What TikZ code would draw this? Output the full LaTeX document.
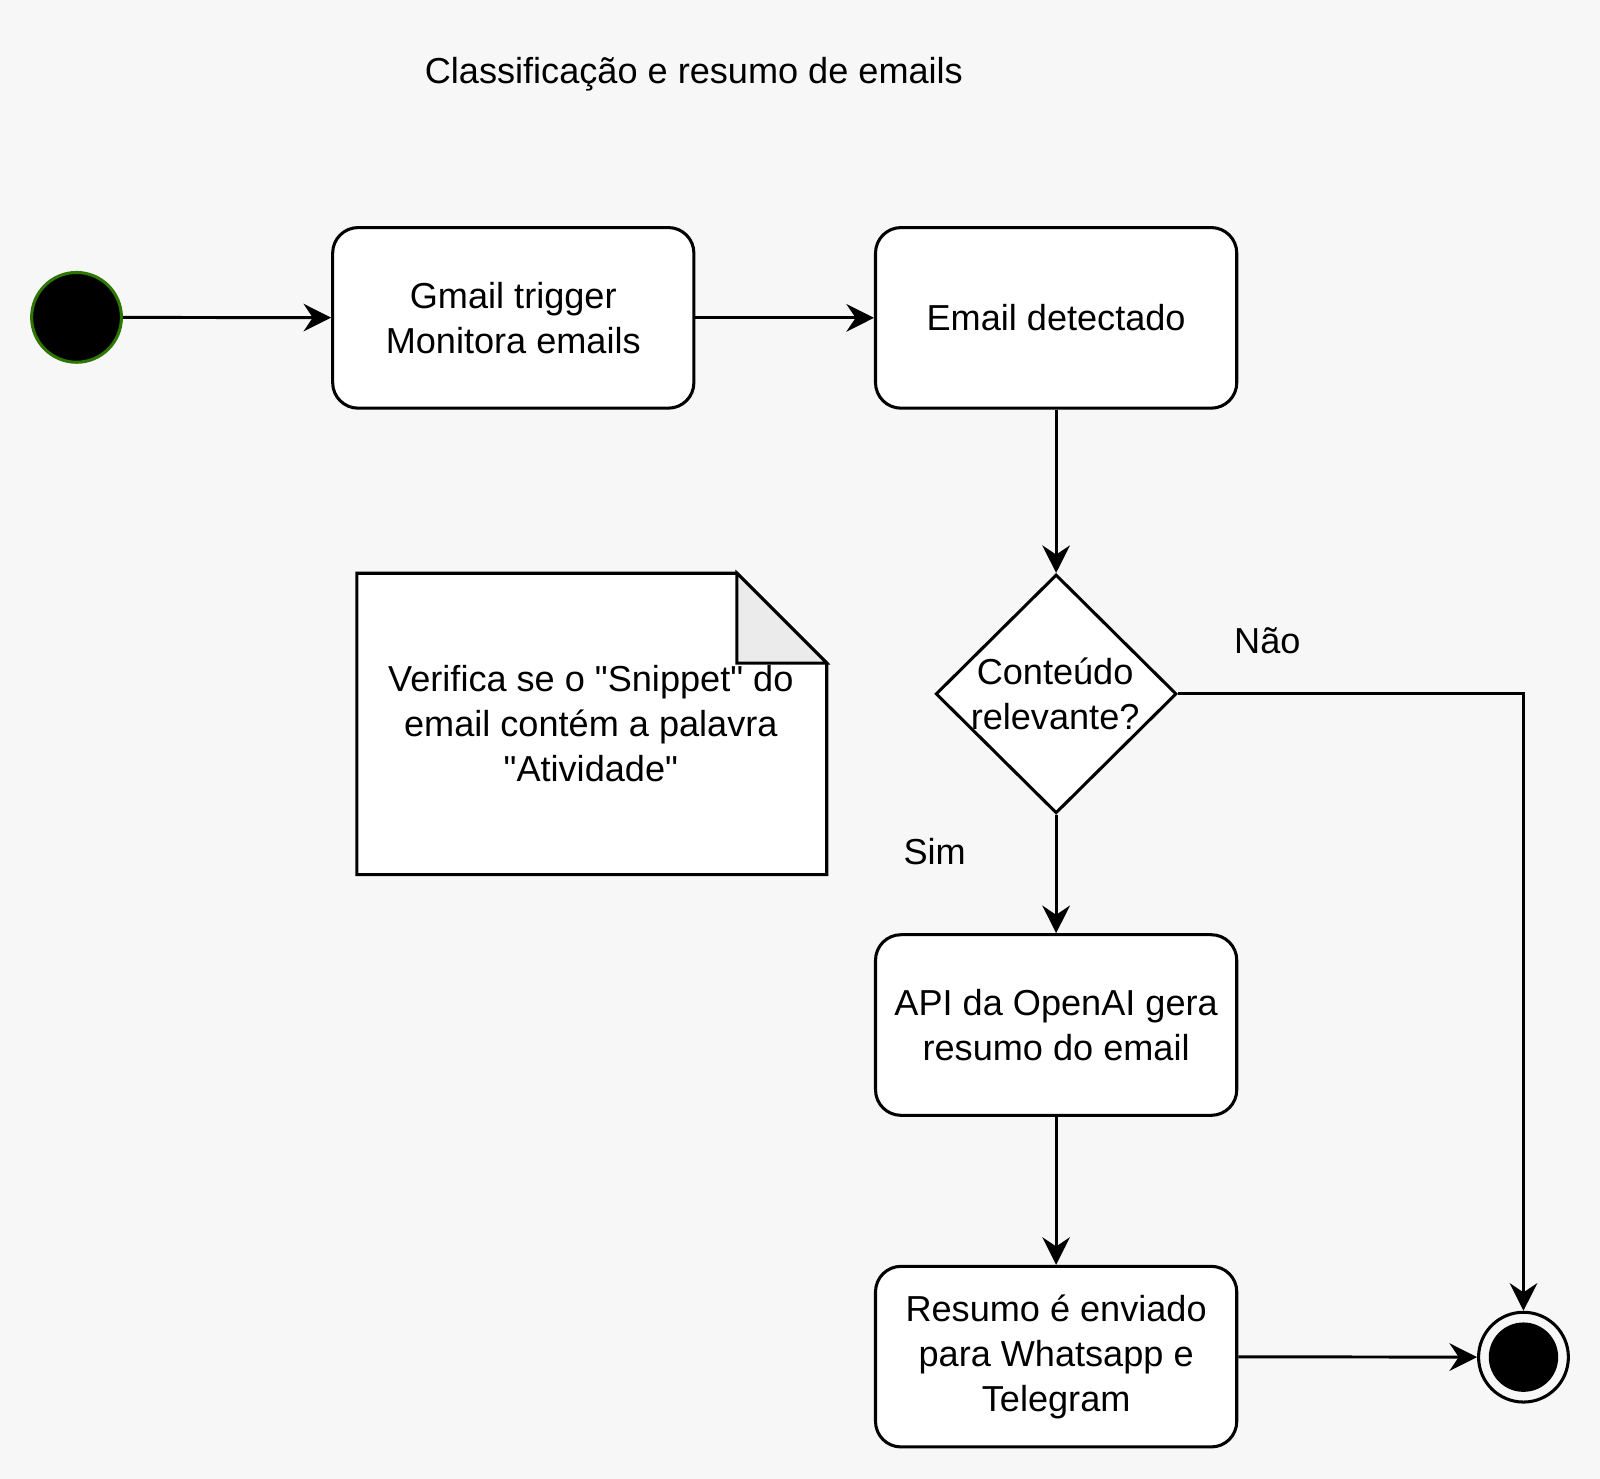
\documentclass[tikz,border=0pt]{standalone}
\usepackage{fontspec}
\setmainfont{Liberation Sans}[Ligatures=TeXOff]
\usetikzlibrary{shapes.geometric,arrows.meta}
\definecolor{bg}{HTML}{F7F7F7}
\definecolor{startgreen}{HTML}{2D7600}
\definecolor{foldgray}{HTML}{EBEBEB}
\begin{document}
\begin{tikzpicture}[x=1pt,y=-1pt,
  every node/.style={font=\fontsize{35.4}{44}\selectfont},
  statebox/.style={draw, line width=3pt, fill=white, rounded corners=25pt,
    minimum width=354pt, minimum height=177pt, align=center, inner sep=0pt},
  conn/.style={line width=2.9pt, -{Stealth[length=27pt,width=27pt,inset=9pt]}},
  txt/.style={align=center, inner sep=0pt}]
\fill[bg] (0,0) rectangle (1568,1449.4);
\useasboundingbox (0,0) rectangle (1568,1449.4);

\node[txt] (title) at (680,73) {Classificação e resumo de emails};

\node[circle, draw=startgreen, fill=black, line width=3pt, minimum size=88pt, inner sep=0pt] (start) at (75,311) {};

\node[statebox] (gmail) at (503,311.5) {Gmail trigger\\Monitora emails};
\node[statebox] (det) at (1035,311.5) {Email detectado};

\node[diamond, draw, line width=3pt, fill=white, minimum width=236pt, minimum height=234pt, inner sep=0pt] (dec) at (1035,680) {};
\node[txt] (dectext) at (1034,680) {Conteúdo\\relevante?};

\node[statebox] (api) at (1035,1004.5) {API da OpenAI gera\\resumo do email};
\node[statebox] (res) at (1035,1329.5) {Resumo é enviado\\para Whatsapp e\\Telegram};

\node[circle, draw, line width=3pt, fill=bg, minimum size=88pt, inner sep=0pt] (end) at (1493,1330) {};
\fill[black] (end.center) circle (34pt);

% note
\node[minimum width=460pt, minimum height=295pt, inner sep=0pt] (note) at (580,709.5) {};
\draw[line width=3pt, fill=white, line join=miter]
  (note.north west) -- ([xshift=-88pt]note.north east) -- ([yshift=-88pt]note.north east)
  -- (note.south east) -- (note.south west) -- cycle;
\draw[line width=3pt, fill=foldgray, line join=miter]
  ([xshift=-88pt]note.north east) -- ([xshift=-88pt,yshift=-88pt]note.north east)
  -- ([yshift=-88pt]note.north east) -- cycle;
\node[txt] (notetext) at (579,709) {Verifica se o "Snippet" do\\email contém a palavra\\"Atividade"};

\node[txt] (nao) at (1242,628) {Não};
\node[txt] (sim) at (916,835) {Sim};

\draw[conn] (start) -- (gmail);
\draw[conn] (gmail) -- (det);
\draw[conn] (det) -- (dec.north);
\draw[conn] (dec.south) -- (api);
\draw[conn] (api) -- (res);
\draw[conn] (res) -- (end);
\draw[conn] (dec.east) -| (end.north);
\end{tikzpicture}
\end{document}
